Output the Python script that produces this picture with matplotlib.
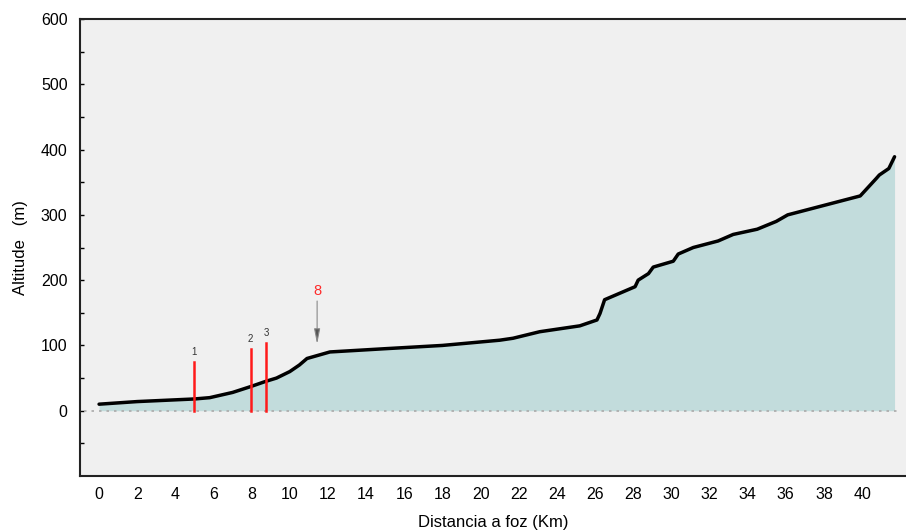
import matplotlib
matplotlib.use("Agg")
import matplotlib.pyplot as plt
import numpy as np

# Longitudinal profile
dist_km = [0, 2, 5, 5.8, 7.0, 7.95, 8.74, 9.3, 10.0, 10.5, 10.9, 12.1, 15, 18, 21.0, 21.7,
           23.1, 25.2, 26.1, 26.26, 26.5, 28.1, 28.26, 28.8, 29.05, 30.1, 30.36, 31.15,
           32.45, 33.24, 34.5, 35.5, 36.1, 39.9, 40.75, 40.9, 41.4, 41.7]
altitude_m = [10, 14, 18, 20, 28, 37, 45, 50, 60, 70, 80, 90, 95, 100, 108, 111,
              121, 130, 139, 149, 170, 190, 200, 210, 220, 229, 240, 250,
              260, 270, 278, 290, 300, 329, 356, 361, 371, 389]

# Red markers (numbered)
marker_labels = ["1", "2", "3"]
marker_km = [5.0, 7.95, 8.75]
marker_top = [75, 95, 104]

# Arrow annotation
arrow_label = "8"
arrow_km = 11.43
arrow_text_alt = 183
arrow_tail_alt = 168
arrow_head_alt = 102

xticks = list(range(0, 41, 2))
yticks = list(range(0, 601, 100))

fig = plt.figure(figsize=(9.06, 5.30), dpi=100)
fig.patch.set_facecolor("white")
ax = fig.add_axes([80/906, 54/530, 826/906, 457/530])
ax.set_facecolor("#f0f0f0")

ax.fill_between(dist_km, 0, altitude_m, color="#c2dcdc", lw=0, zorder=1)
ax.plot([-0.8, 41.9], [0, 0], color="#aaaaaa", lw=1.2, ls=(0, (1.5, 3)), zorder=2)
ax.plot(dist_km, altitude_m, color="black", lw=2.5, solid_capstyle="round",
        solid_joinstyle="round", zorder=4)

for lab, x, top in zip(marker_labels, marker_km, marker_top):
    ax.plot([x, x], [0, top], color="#ff1a1a", lw=1.8, zorder=5)
    ax.text(x, top + 7, lab, ha="center", va="bottom", fontsize=7,
            color="#333333", family="Liberation Sans")

ax.annotate("", xy=(arrow_km, arrow_head_alt), xytext=(arrow_km, arrow_tail_alt),
            arrowprops=dict(arrowstyle="-|>,head_length=0.9,head_width=0.18",
                            color="#888888", lw=0.8, shrinkA=0, shrinkB=0,
                            fc="#555555"), zorder=5)
ax.text(arrow_km, arrow_text_alt, arrow_label, ha="center", va="center",
        fontsize=10.5, color="#ff2a2a", family="Liberation Sans")

ax.set_xlim(-1.0, 42.3)
ax.set_ylim(-100, 600)
ax.set_xticks(xticks)
ax.set_yticks(yticks)
ax.set_yticks(list(range(-50, 600, 100)), minor=True)
ax.tick_params(axis="x", length=0, pad=8, labelsize=11.5)
ax.tick_params(axis="y", which="both", direction="in", length=3, width=1,
               labelsize=11.5, pad=9)
for lbl in ax.get_xticklabels():
    lbl.set_family(["Liberation Sans Narrow", "Liberation Sans"])
for lbl in ax.get_yticklabels():
    lbl.set_family("Liberation Sans")

for side in ["left", "bottom", "top"]:
    ax.spines[side].set_linewidth(1.5)
    ax.spines[side].set_color("#222222")
ax.spines["right"].set_visible(False)

ax.set_xlabel("Distancia a foz (Km)", fontsize=12, family="Liberation Sans", labelpad=9)
ax.set_ylabel("Altitude   (m)", fontsize=12, family="Liberation Sans", labelpad=9)

fig.savefig("out.png", dpi=100)
